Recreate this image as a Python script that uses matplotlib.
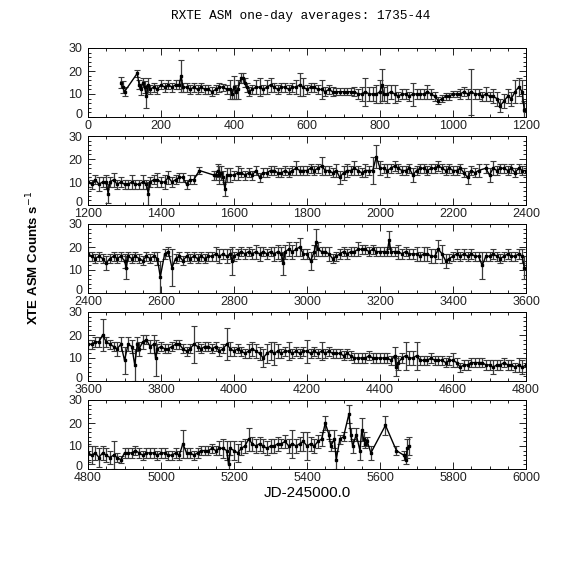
import matplotlib
matplotlib.use("Agg")
import matplotlib.pyplot as plt
from matplotlib.ticker import MultipleLocator
from matplotlib.transforms import ScaledTranslation

# ---------------- data ----------------
day_1 = [90, 95, 100, 135, 140, 145, 150, 155, 160, 165, 170, 180, 190, 200, 210, 220, 230, 240,
         250, 255, 260, 270, 280, 290, 300, 310, 320, 330, 340, 350, 360, 370, 380, 390, 395, 400,
         405, 410, 420, 425, 430, 435, 440, 450, 460, 470, 480, 490, 500, 510, 520, 530, 540, 550,
         560, 570, 580, 590, 600, 610, 620, 630, 640, 650, 660, 670, 680, 690, 700, 710, 720, 730,
         740, 750, 760, 770, 780, 790, 800, 805, 810, 820, 830, 840, 850, 860, 870, 880, 890, 900,
         910, 920, 930, 940, 950, 960, 970, 980, 990, 1000, 1010, 1020, 1030, 1040, 1050, 1060,
         1070, 1080, 1090, 1100, 1110, 1120, 1130, 1140, 1150, 1160, 1170, 1180, 1190, 1195]
cts_1 = [15, 13, 11, 19, 14, 12, 15, 13, 9, 14, 12, 13, 12, 14, 13, 14, 13, 14,
         14, 18, 13, 13, 12, 13, 12, 13, 12, 12, 11, 12, 13, 13, 12, 12, 10, 13,
         11, 12, 17, 17, 15, 13, 11, 12, 13, 13, 12, 13, 14, 13, 12, 13, 13, 12,
         13, 13, 14, 13, 12, 13, 13, 12, 12, 11, 12, 11, 11, 11, 11, 11, 11, 11,
         10, 10, 11, 10, 10, 10, 11, 14, 10, 10, 11, 10, 9, 10, 10, 9, 10, 10,
         10, 10, 11, 10, 9, 7, 8, 9, 9, 10, 10, 10, 11, 10, 11, 10,
         10, 9, 10, 9, 9, 8, 5, 7, 9, 8, 11, 13, 11, 3]
err_1 = [2.5, 2.5, 2, 1.5, 2, 2.5, 2, 2.5, 5, 3, 2, 2, 2, 2, 2, 2, 2, 2,
         2, 7, 2, 2, 2, 2, 2, 2, 2, 2, 2, 2, 2, 1.5, 2, 4, 2, 5,
         3, 4, 2, 2, 2, 2, 2, 2, 3, 4, 2, 3, 3, 2, 2, 2, 2, 2,
         2, 3, 5, 4, 2, 2, 2, 2, 4, 2, 2, 2, 1.5, 1.5, 1.5, 1.5, 1.5, 2,
         2, 3, 6, 3, 3, 4, 5, 7, 3, 4, 3, 4, 2, 2, 2, 2, 5, 2,
         2, 2, 3, 2, 2, 1.5, 1.5, 1.5, 1.5, 1.5, 1.5, 2, 2, 2, 10, 2,
         2, 2, 3, 2, 3, 3, 3, 3, 3, 3, 5, 4, 5, 4]

day_2 = [1200, 1210, 1220, 1230, 1240, 1250, 1255, 1260, 1270, 1280, 1290, 1300, 1310, 1320,
         1330, 1340, 1350, 1360, 1365, 1370, 1380, 1390, 1400, 1410, 1420, 1430, 1440, 1450,
         1460, 1470, 1480, 1490, 1505, 1545, 1550, 1555, 1560, 1565, 1570, 1575, 1580, 1590,
         1600, 1610, 1620, 1630, 1640, 1650, 1660, 1670, 1680, 1690, 1700, 1710, 1720, 1730,
         1740, 1750, 1760, 1770, 1780, 1790, 1800, 1810, 1820, 1830, 1840, 1850, 1860, 1870,
         1880, 1890, 1900, 1910, 1920, 1930, 1940, 1950, 1960, 1970, 1980, 1990, 2000, 2010,
         2020, 2030, 2040, 2050, 2060, 2070, 2080, 2090, 2100, 2110, 2120, 2130, 2140, 2150,
         2160, 2170, 2180, 2190, 2200, 2210, 2220, 2230, 2240, 2250, 2260, 2270, 2290, 2300,
         2310, 2320, 2330, 2340, 2350, 2360, 2370, 2380, 2390, 2400]
cts_2 = [10, 9, 11, 9, 10, 10, 5, 10, 11, 9, 10, 9, 9, 10,
         9, 9, 10, 9, 5, 10, 11, 11, 10, 10, 12, 10, 11, 12,
         12, 9, 11, 11, 15, 13, 13, 15, 13, 14, 12, 7, 13, 13,
         13, 14, 14, 13, 14, 13, 15, 12, 14, 14, 15, 15, 14, 14,
         15, 14, 15, 16, 15, 15, 15, 16, 15, 16, 17, 15, 15, 14,
         15, 12, 14, 15, 15, 16, 15, 14, 15, 15, 15, 21, 16, 16,
         15, 16, 17, 16, 15, 15, 16, 13, 15, 16, 16, 15, 16, 16,
         17, 16, 15, 16, 15, 15, 16, 14, 12, 15, 14, 15, 16, 13,
         16, 15, 16, 16, 15, 16, 14, 16, 15, 15]
err_2 = [2, 2, 2, 3, 2, 3, 4, 2, 3, 2, 2, 2, 2, 3,
         2, 2, 3, 2, 5, 2, 2, 3, 2, 3, 3, 2, 2, 2,
         2, 2, 2, 2, 1.5, 2, 2, 3, 4, 3, 3, 3, 3, 3,
         2, 3, 2, 2, 2, 2, 2, 2, 2, 2, 2, 2, 2, 2,
         2, 2, 2, 3, 2, 2, 2, 2, 2, 2, 4, 2, 2, 2,
         3, 3, 3, 3, 2, 3, 2, 2, 3, 2, 6, 5, 3, 2,
         3, 2, 2, 2, 2, 2, 2, 3, 2, 2, 2, 2, 2, 2,
         2, 2, 2, 2, 2, 2, 2, 2, 3, 2, 2, 3, 2, 3,
         3, 2, 2, 2, 2, 2, 2, 2, 2, 2]

day_3 = [2400, 2410, 2420, 2430, 2440, 2450, 2460, 2470, 2480, 2490, 2500, 2505, 2510, 2520,
         2530, 2540, 2550, 2560, 2570, 2580, 2590, 2598, 2610, 2620, 2630, 2640, 2650, 2660,
         2670, 2680, 2690, 2700, 2710, 2720, 2730, 2740, 2750, 2760, 2770, 2780, 2790, 2795,
         2800, 2810, 2820, 2830, 2840, 2850, 2860, 2870, 2880, 2890, 2900, 2910, 2920, 2930,
         2935, 2940, 2950, 2960, 2970, 2980, 2990, 3000, 3010, 3020, 3025, 3030, 3040, 3050,
         3060, 3070, 3080, 3090, 3100, 3110, 3120, 3130, 3140, 3150, 3160, 3170, 3180, 3190,
         3200, 3210, 3220, 3225, 3230, 3240, 3250, 3260, 3270, 3280, 3290, 3300, 3310, 3320,
         3330, 3340, 3350, 3360, 3370, 3380, 3390, 3400, 3410, 3420, 3430, 3440, 3450, 3460,
         3470, 3480, 3490, 3500, 3510, 3520, 3530, 3540, 3550, 3560, 3570, 3580, 3590, 3595]
cts_3 = [17, 16, 15, 16, 15, 13, 15, 16, 15, 16, 14, 11, 16, 15,
         16, 15, 14, 16, 15, 16, 15, 7, 17, 18, 11, 15, 16, 14,
         16, 15, 16, 15, 16, 15, 16, 16, 17, 16, 17, 16, 17, 14,
         16, 17, 18, 17, 18, 17, 18, 17, 18, 17, 18, 17, 18, 17,
         13, 18, 19, 18, 19, 20, 17, 17, 14, 18, 22, 19, 18, 18,
         17, 15, 16, 17, 18, 17, 18, 18, 19, 19, 19, 18, 19, 18,
         18, 18, 18, 23, 18, 18, 18, 17, 18, 17, 17, 17, 16, 17,
         17, 16, 16, 19, 17, 14, 15, 16, 17, 16, 17, 16, 17, 16,
         16, 12, 16, 16, 17, 16, 15, 16, 17, 16, 16, 17, 16, 11]
err_3 = [3, 2, 2, 2, 2, 3, 2, 2, 2, 2, 3, 5, 2, 2,
         2, 2, 2, 2, 2, 2, 3, 7, 2, 2, 8, 2, 2, 2,
         2, 2, 2, 2, 2, 2, 2, 2, 3, 3, 2, 3, 2, 6,
         2, 2, 2, 2, 2, 2, 3, 3, 2, 2, 2, 3, 3, 3,
         5, 3, 3, 3, 3, 4, 2, 2, 4, 3, 6, 3, 2, 2,
         3, 2, 2, 2, 2, 2, 2, 2, 3, 2, 2, 2, 2, 2,
         2, 2, 2, 4, 2, 2, 3, 2, 2, 2, 2, 3, 2, 3,
         3, 3, 3, 4, 4, 3, 2, 2, 2, 2, 2, 2, 2, 2,
         2, 6, 2, 2, 2, 2, 2, 2, 2, 2, 2, 2, 3, 5]

day_4 = [3600, 3610, 3620, 3630, 3640, 3650, 3660, 3670, 3680, 3690, 3700, 3710, 3720, 3728,
         3735, 3740, 3750, 3760, 3770, 3780, 3785, 3790, 3800, 3810, 3820, 3830, 3840, 3850,
         3860, 3870, 3880, 3890, 3900, 3910, 3920, 3930, 3940, 3950, 3960, 3970, 3980, 3990,
         4000, 4010, 4020, 4030, 4040, 4050, 4060, 4070, 4080, 4090, 4100, 4110, 4120, 4130,
         4140, 4150, 4160, 4170, 4180, 4190, 4200, 4210, 4220, 4230, 4240, 4250, 4260, 4270,
         4280, 4290, 4300, 4310, 4320, 4330, 4340, 4350, 4360, 4370, 4380, 4390, 4400, 4410,
         4420, 4430, 4440, 4445, 4450, 4460, 4470, 4480, 4490, 4500, 4510, 4520, 4530, 4540,
         4550, 4560, 4570, 4580, 4590, 4600, 4610, 4620, 4630, 4640, 4650, 4660, 4670, 4680,
         4690, 4700, 4710, 4720, 4730, 4740, 4750, 4760, 4770, 4780, 4790, 4800]
cts_4 = [16, 16, 17, 17, 20, 17, 16, 15, 14, 16, 9, 16, 15, 7,
         16, 14, 17, 18, 15, 16, 10, 14, 15, 14, 14, 15, 16, 16,
         14, 13, 14, 16, 15, 14, 15, 15, 14, 15, 13, 14, 16, 14,
         13, 14, 13, 12, 13, 14, 13, 12, 10, 12, 13, 12, 13, 12,
         13, 13, 12, 13, 12, 13, 13, 12, 13, 12, 13, 12, 13, 12,
         12, 12, 11, 12, 11, 10, 10, 10, 10, 11, 10, 10, 10, 10,
         10, 9, 11, 6, 8, 10, 11, 10, 10, 11, 9, 9, 9, 10,
         9, 9, 9, 8, 9, 9, 8, 6, 7, 7, 8, 8, 8, 8,
         7, 7, 6, 7, 7, 8, 7, 7, 6, 7, 6, 7]
err_4 = [2, 2, 2, 2, 7, 2, 2, 2, 3, 3, 6, 3, 3, 7,
         3, 3, 3, 2, 3, 4, 8, 2, 2, 2, 2, 2, 2, 2,
         2, 2, 2, 8, 2, 2, 2, 2, 2, 2, 2, 2, 7, 3,
         2, 2, 2, 2, 3, 3, 3, 3, 4, 4, 4, 5, 3, 2,
         2, 4, 2, 2, 2, 2, 5, 2, 2, 2, 4, 2, 2, 2,
         2, 2, 2, 2, 2, 2, 2, 2, 2, 2, 2, 2, 2, 2,
         2, 2, 4, 4, 3, 2, 6, 3, 3, 6, 2, 2, 2, 2,
         2, 2, 2, 2, 2, 3, 2, 2, 2, 2, 2, 2, 2, 2,
         2, 2, 3, 2, 2, 2, 2, 2, 2, 3, 3, 3]

day_5 = [4800, 4810, 4820, 4830, 4840, 4850, 4860, 4870, 4880, 4890, 4900, 4910, 4920, 4930,
         4940, 4950, 4960, 4970, 4980, 4990, 5000, 5010, 5020, 5030, 5040, 5050, 5060, 5070,
         5080, 5090, 5100, 5110, 5120, 5130, 5140, 5150, 5160, 5170, 5180, 5185, 5190, 5200,
         5210, 5220, 5230, 5240, 5250, 5260, 5270, 5280, 5290, 5300, 5310, 5320, 5330, 5340,
         5350, 5360, 5370, 5380, 5390, 5400, 5410, 5420, 5430, 5440, 5450, 5460, 5465, 5475,
         5480, 5490, 5500, 5515, 5520, 5525, 5535, 5545, 5550, 5555, 5560, 5565, 5575, 5615,
         5645, 5665, 5670, 5675, 5680]
cts_5 = [7, 6, 7, 5, 7, 6, 5, 6, 5, 4, 7, 7, 7, 8,
         7, 6, 7, 7, 7, 6, 7, 7, 6, 6, 7, 6, 11, 7,
         7, 6, 7, 8, 8, 8, 9, 8, 9, 9, 8, 2, 9, 8,
         7, 9, 10, 13, 11, 10, 11, 10, 9, 10, 10, 11, 11, 12,
         10, 11, 10, 11, 12, 10, 11, 10, 12, 13, 20, 15, 10, 13,
         4, 13, 14, 24, 15, 10, 15, 8, 17, 13, 11, 12, 7, 19,
         8, 6, 4, 9, 10]
err_5 = [4, 4, 3, 4, 3, 3, 3, 6, 2, 1.5, 2, 2, 2, 2,
         2, 2, 2, 2, 2, 2, 2, 2, 2, 2, 2, 2, 6, 2,
         2, 2, 2, 2, 2, 2, 2, 2, 3, 4, 4, 4, 3, 4,
         4, 3, 3, 5, 3, 3, 3, 3, 3, 3, 3, 3, 2, 3,
         3, 6, 3, 3, 4, 6, 3, 3, 3, 3, 3, 2, 2, 4,
         4, 2, 2, 4, 3, 3, 3, 4, 5, 3, 2, 2, 3, 4,
         2, 2, 2, 4, 4]

panels = [(day_1, cts_1, err_1), (day_2, cts_2, err_2), (day_3, cts_3, err_3),
          (day_4, cts_4, err_4), (day_5, cts_5, err_5)]

# ---------------- plot ----------------
fig = plt.figure(figsize=(5.74, 5.74), dpi=100)

left = 88 / 574
width = 438 / 574
height = 69 / 574
tops = [48, 136, 224, 312, 400]
axes = []

for i, (day, cts, err) in enumerate(panels):
    bottom = 1 - (tops[i] + 69) / 574
    ax = fig.add_axes([left, bottom, width, height])
    ax.errorbar(day, cts, yerr=err, fmt="s", ms=2.0, color="black", ecolor="#3a3a3a",
                elinewidth=0.9, capsize=2.0, capthick=0.8)
    ax.plot(day, cts, color="black", lw=1.0)
    ax.set_xlim(i * 1200, (i + 1) * 1200)
    ax.set_ylim(0, 30)
    ax.xaxis.set_major_locator(MultipleLocator(200))
    ax.xaxis.set_minor_locator(MultipleLocator(50))
    ax.yaxis.set_major_locator(MultipleLocator(10))
    ax.yaxis.set_minor_locator(MultipleLocator(2))
    ax.tick_params(which="both", direction="in", top=True, right=True,
                   labelsize=9, labelcolor="#222222")
    ax.tick_params(axis="x", pad=2.5)
    ax.tick_params(axis="y", pad=4)
    ax.tick_params(which="major", length=5, width=0.6)
    ax.tick_params(which="minor", length=2.5, width=0.6)
    for s in ax.spines.values():
        s.set_linewidth(0.7)
    for lab in ax.get_xticklabels() + ax.get_yticklabels():
        lab.set_family("Liberation Sans")
    if i == 4:
        ax.set_xlabel("JD-245000.0", fontsize=11, family="Liberation Sans", labelpad=1)
    axes.append(ax)

fig.text(301 / 574, 1 - 16 / 574, "RXTE ASM one-day averages: 1735-44", ha="center", va="center",
         fontsize=9.2, family="Liberation Mono")
fig.text(33 / 574, 1 - 258 / 574, r"XTE ASM Counts s$^{-1}$", rotation=90, ha="center",
         va="center", fontsize=9.5, family="Liberation Sans", fontweight="bold")

# lift each "0" label a little so it clears the first x label under it
fig.canvas.draw()
for ax in axes:
    for tick in ax.yaxis.get_major_ticks():
        if tick.get_loc() == 0:
            lab = tick.label1
            lab.set_transform(lab.get_transform() + ScaledTranslation(0, 4 / 100, fig.dpi_scale_trans))

fig.savefig("out.png", dpi=100)
